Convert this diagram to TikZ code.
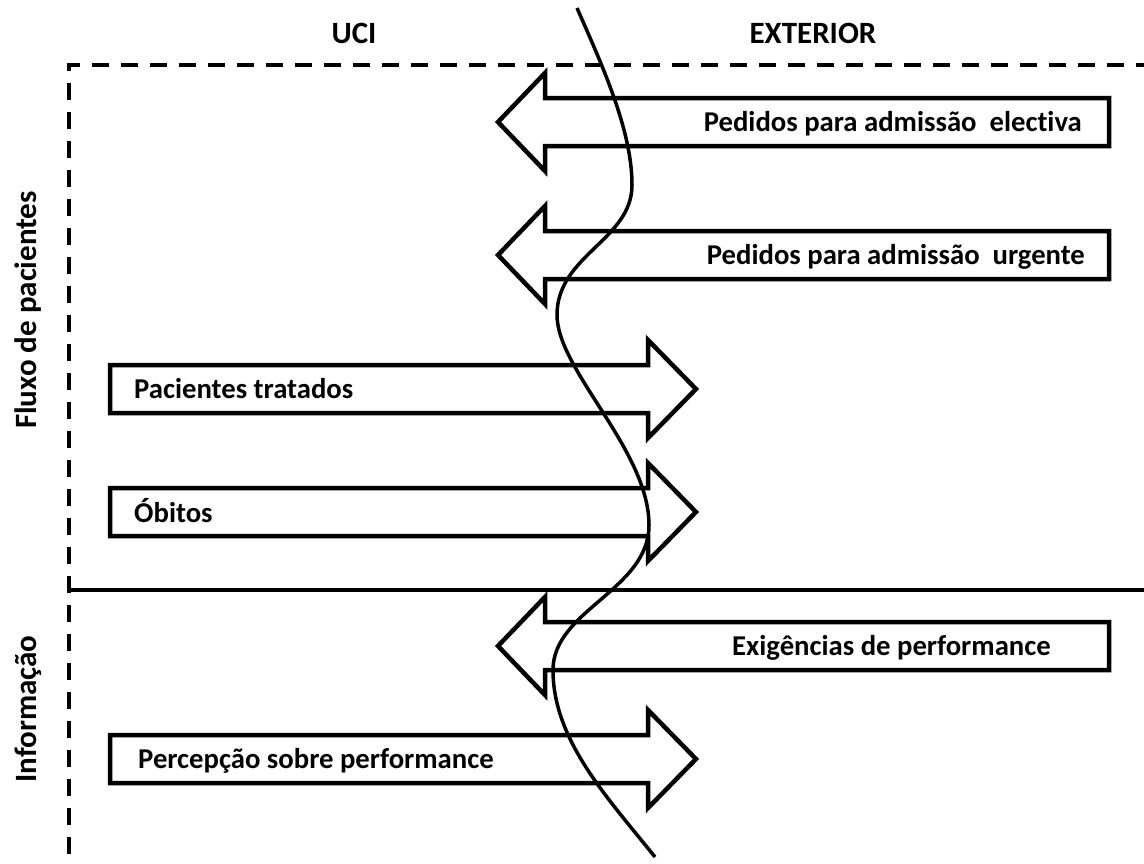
\documentclass[tikz,border=0pt]{standalone}
\usepackage{fontspec}
\setmainfont{Carlito}[Ligatures={NoCommon}]
\begin{document}
\begin{tikzpicture}[x=1pt,y=-1pt,
  lbl/.style={font=\fontsize{28.7}{34}\selectfont\bfseries, inner sep=0pt},
  head/.style={font=\fontsize{31}{36}\selectfont\bfseries, inner sep=0pt},
  fatarrow/.style={line width=4.5pt, line join=miter, miter limit=10},
  frameline/.style={line width=4.5pt, dash pattern=on 17pt off 12pt, dash phase=20pt},
  divider/.style={line width=3.8pt},
  boundary/.style={line width=3.5pt},
  pics/leftfat/.style={code={
    \draw[fatarrow] (0,-24) -- (-564,-24) -- (-564,-49) -- (-611,0)
      -- (-564,49) -- (-564,24) -- (0,24) -- cycle;}},
  pics/rightfat/.style={code={
    \draw[fatarrow] (0,-24) -- (538,-24) -- (538,-49) -- (586,0)
      -- (538,49) -- (538,24) -- (0,24) -- cycle;}}
]
\useasboundingbox (0,0) rectangle (1144,863);

% frame and divider
\coordinate (fbot) at (69,863);
\coordinate (fcorner) at (69,65);
\coordinate (fright) at (1144,65);
\draw[frameline] (fbot) -- (fcorner) -- (fright);
\coordinate (dl) at (69,590);
\coordinate (dr) at (1144,590);
\draw[divider] (dl) -- (dr);

% headings
\node[head, anchor=base] (uci) at (354,43) {UCI};
\node[head, anchor=base] (ext) at (813,43) {EXTERIOR};
\node[head, anchor=base, rotate=90] (fluxo) at (36,310) {Fluxo de pacientes};
\node[head, anchor=base, rotate=90] (info) at (36,709) {Informação};

% flows
\pic at (1109,122) {leftfat};
\pic at (1109,255) {leftfat};
\pic at (110,389) {rightfat};
\pic at (110,512) {rightfat};
\pic at (1109,646) {leftfat};
\pic at (110,759) {rightfat};

\node[lbl, anchor=base east] (electiva) at (1082,131) {Pedidos para admissão\ \ electiva};
\node[lbl, anchor=base east] (urgente) at (1085,264) {Pedidos para admissão\ \ urgente};
\node[lbl, anchor=base west] (tratados) at (134,398) {Pacientes tratados};
\node[lbl, anchor=base west] (obitos) at (134,522) {Óbitos};
\node[lbl, anchor=base east] (exig) at (1051,655) {Exigências de performance};
\node[lbl, anchor=base west] (percep) at (138,768) {Percepção sobre performance};

% boundary between UCI and exterior
\coordinate (b0) at (577,8);
\coordinate (b1) at (632,185);
\coordinate (b2) at (557,315);
\coordinate (b3) at (649,525);
\coordinate (b4) at (553,670);
\coordinate (b5) at (655,857);
\draw[boundary] (b0) .. controls (602,65) and (632,130) .. (b1)
  .. controls (632,240) and (557,255) .. (b2)
  .. controls (557,370) and (649,450) .. (b3)
  .. controls (649,590) and (553,610) .. (b4)
  .. controls (553,740) and (607,797) .. (b5);
\end{tikzpicture}
\end{document}
